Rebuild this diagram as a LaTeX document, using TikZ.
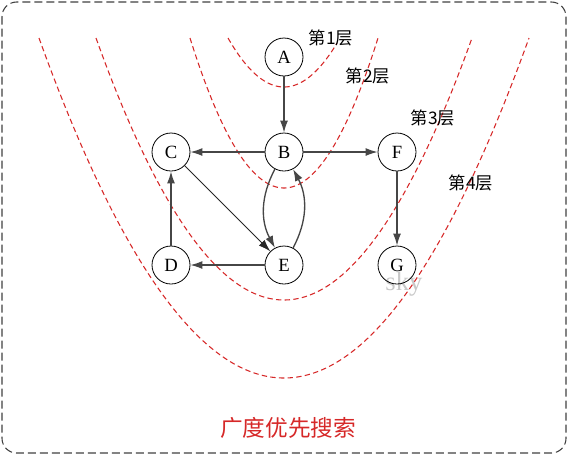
\documentclass[tikz,border=0pt]{standalone}
\usepackage{fontspec}
\setmainfont{Liberation Serif}
\newfontfamily\cjk{Noto Sans CJK SC}
\usetikzlibrary{arrows.meta}
\definecolor{layerred}{RGB}{214,40,40}
\definecolor{edgegray}{RGB}{70,70,70}
\definecolor{skygray}{RGB}{200,200,200}
\tikzset{
  vtx/.style={circle,draw=black,line width=0.6pt,minimum size=28.5pt,inner sep=0pt,font=\fontsize{14}{14}\selectfont},
  edge/.style={draw=edgegray,line width=1pt,-{Latex[length=9pt,width=6pt]}},
  thinedge/.style={draw=black!85,line width=0.6pt,-{Latex[length=9pt,width=6pt]}},
  layer/.style={draw=layerred,line width=0.8pt,dash pattern=on 4pt off 2.5pt},
  layerlabel/.style={font=\cjk\fontsize{13}{13}\selectfont,inner sep=0pt},
  frame/.style={draw=black!75,line width=0.8pt,dash pattern=on 6pt off 3pt,rounded corners=11pt}
}
\begin{document}
\begin{tikzpicture}[x=0.75pt,y=-0.75pt]
\useasboundingbox (0,0) rectangle (568,455);
\draw[frame] (2,2) rectangle (566,453);
% layer curves
\draw[layer] plot[domain=-56:53,samples=60] ({284+\x},{87-49*(\x/56)^2});
\draw[layer] plot[domain=-94:94,samples=80] ({284+\x},{188-150*(\x/94)^2});
\draw[layer] plot[domain=-188:188,samples=120] ({284+\x},{300-262*(\x/188)^2});
\draw[layer] plot[domain=-245:245,samples=150] ({284+\x},{378-340*(\x/245)^2});
% watermark
\node[text=skygray,font=\fontsize{20}{20}\selectfont,inner sep=0pt] (sky) at (404,284) {sky};
% nodes
\node[vtx] (A) at (284,57) {A};
\node[vtx] (B) at (284,152) {B};
\node[vtx] (C) at (171,152) {C};
\node[vtx] (F) at (397,152) {F};
\node[vtx] (D) at (171,265) {D};
\node[vtx] (E) at (284,265) {E};
\node[vtx] (G) at (397,265) {G};
% edges
\draw[edge] (A) -- (B);
\draw[edge] (B) -- (C);
\draw[edge] (B) -- (F);
\draw[edge] (F) -- (G);
\draw[edge] (D) -- (C);
\draw[edge] (E) -- (D);
\draw[thinedge] (C) -- (E);
\draw[edge] (B) to[bend right=28] (E);
\draw[edge] (E) to[bend right=28] (B);
% layer labels
\node[layerlabel] (L1) at (331,38) {第1层};
\node[layerlabel] (L2) at (368,76) {第2层};
\node[layerlabel] (L3) at (433,118) {第3层};
\node[layerlabel] (L4) at (471,183) {第4层};
% title
\node[text=layerred,font=\cjk\fontsize{17}{17}\selectfont,inner sep=0pt] (title) at (288,428) {广度优先搜索};
\end{tikzpicture}
\end{document}
